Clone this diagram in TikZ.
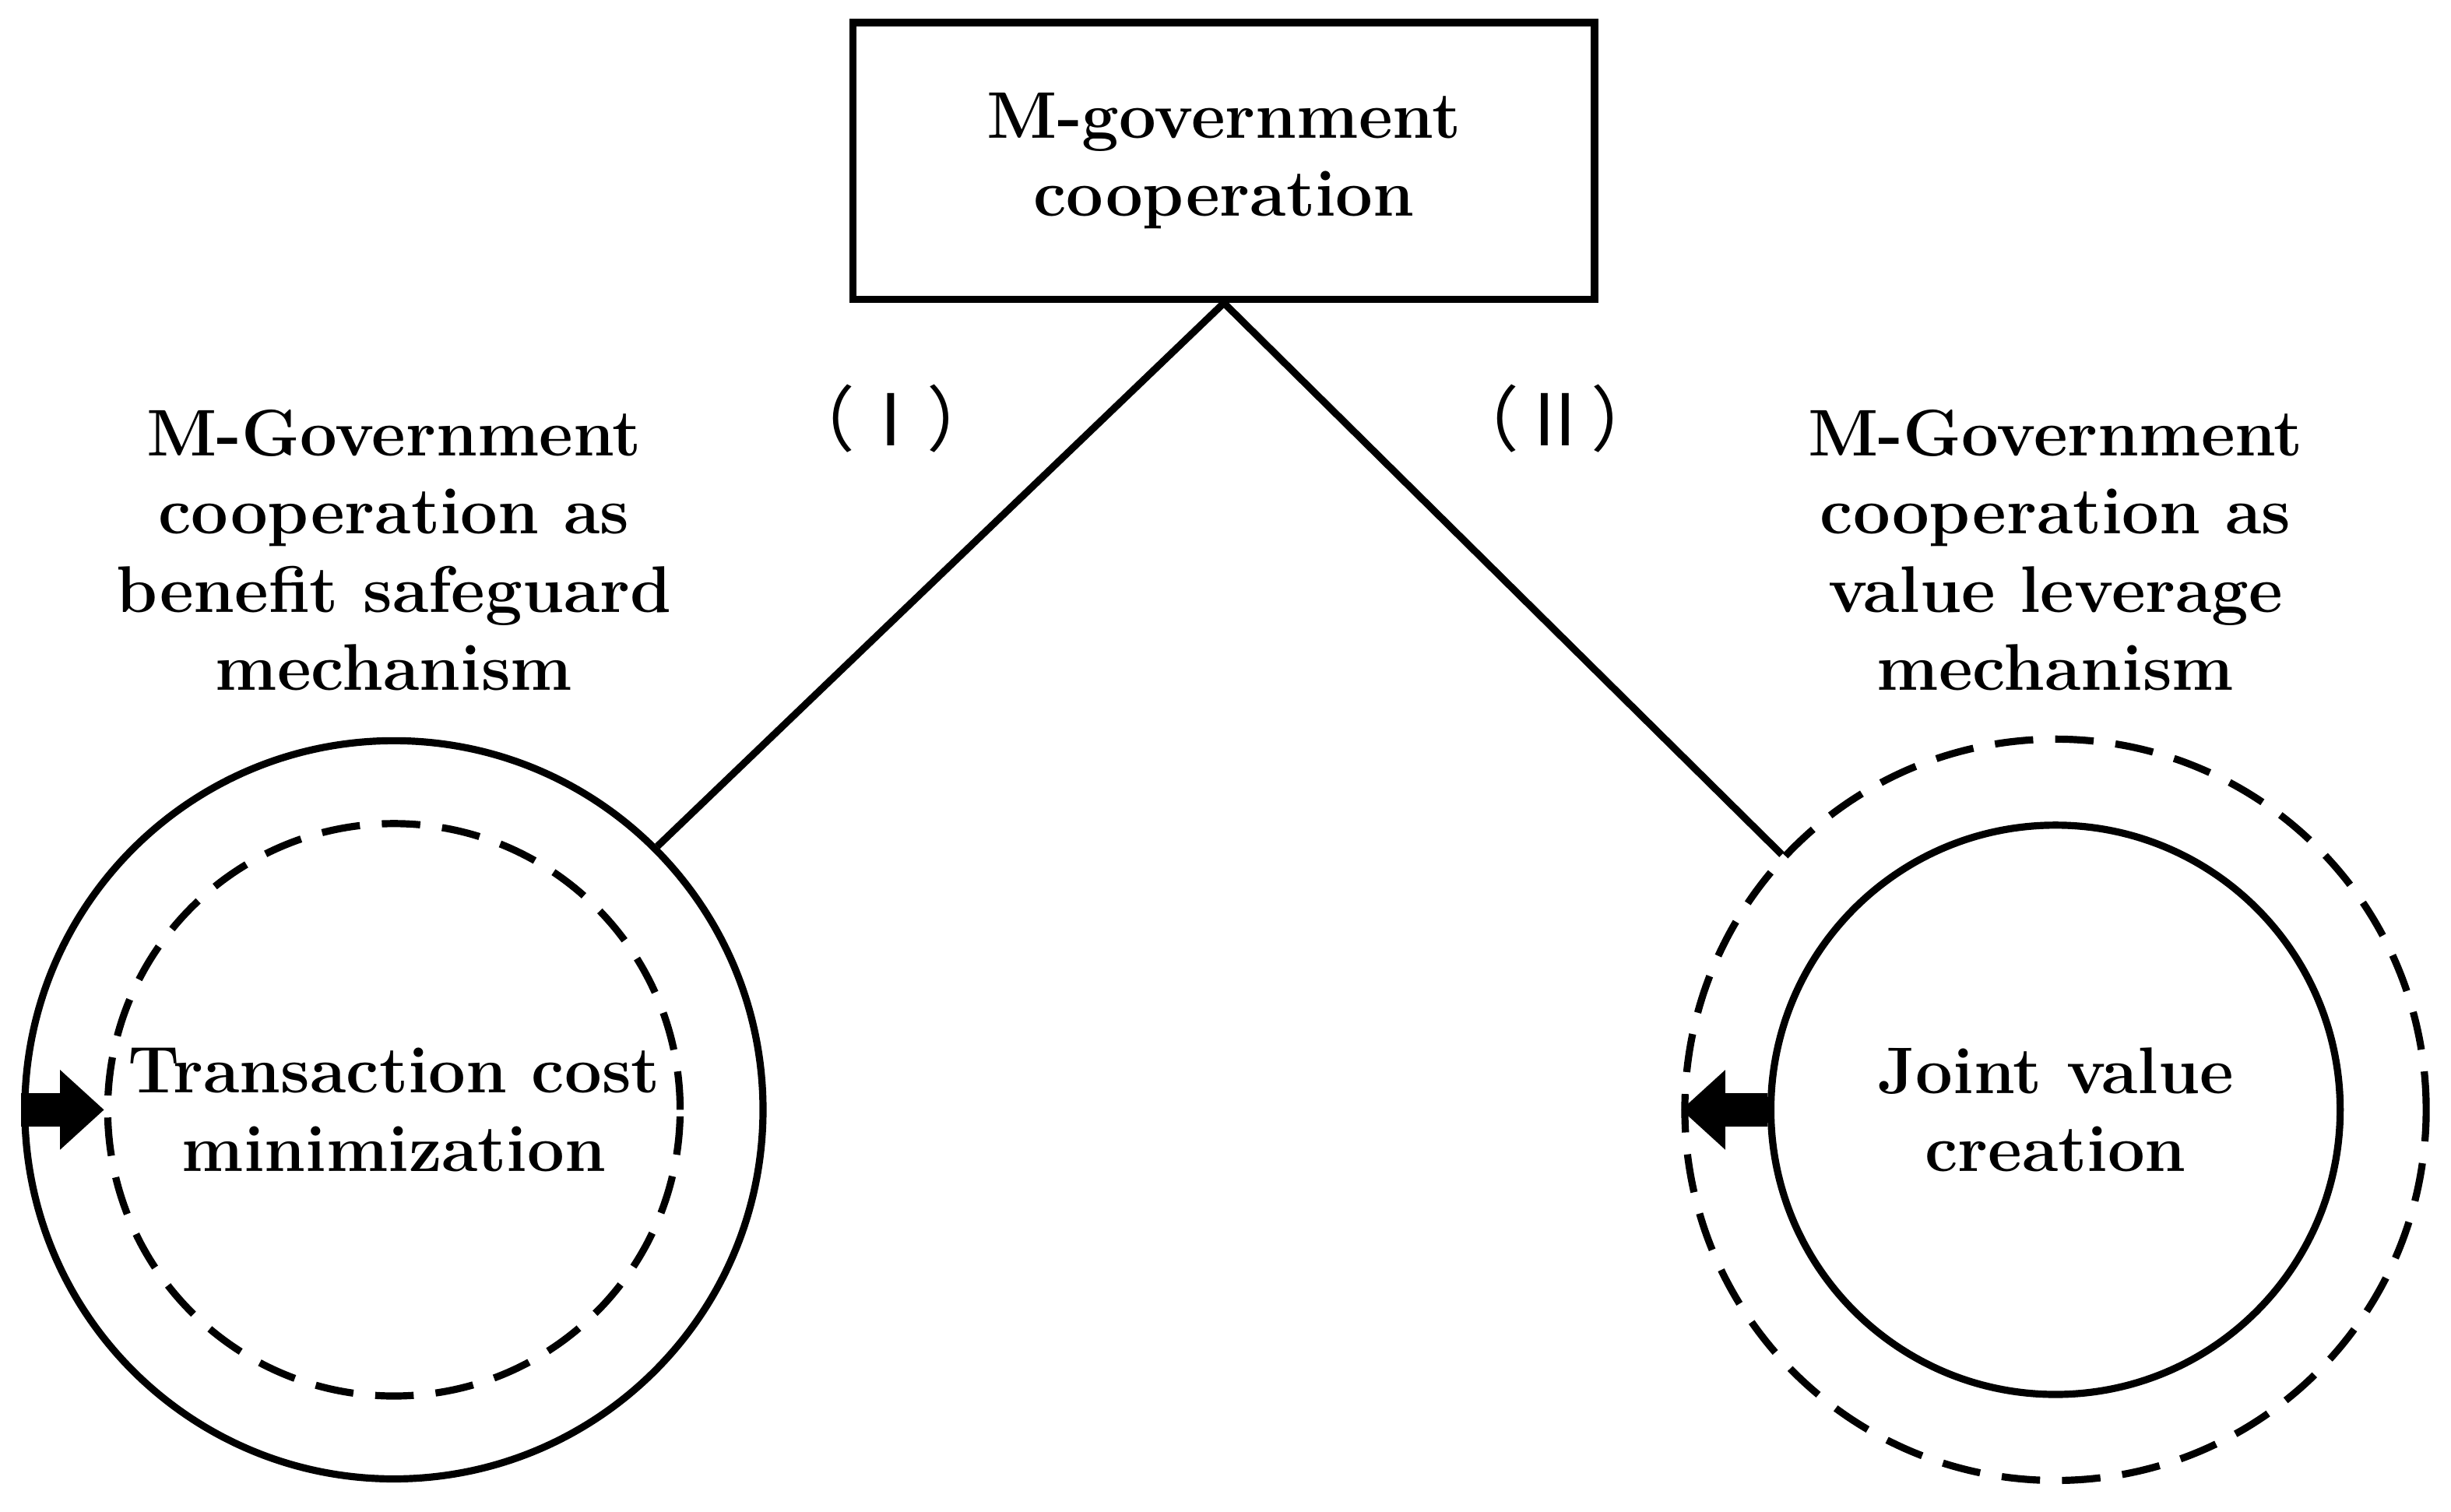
\documentclass[tikz,border=0pt]{standalone}
\usepackage{fontspec}
\newfontfamily\cjkf{Noto Sans CJK SC}
\usetikzlibrary{arrows.meta}
\begin{document}
\begin{tikzpicture}[x=0.01cm,y=-0.01cm,
  lw/.style={line width=1.3pt},
  dsh/.style={lw,dash pattern=on 7pt off 4pt},
  txt/.style={font=\fontsize{12}{14.2}\selectfont\bfseries,align=center},
  barrow/.style={line width=6pt,-{Triangle[length=8pt,width=14pt]}}]
\useasboundingbox (0,0) rectangle (1568,967);
\node[lw,draw,minimum width=4.74cm,minimum height=1.77cm,inner sep=0,txt] (box) at (783,103) {M-government\\cooperation};
\node[lw,draw,circle,minimum size=4.72cm] (L) at (252,710) {};
\node[dsh,draw,circle,minimum size=3.66cm] (Li) at (252,710) {};
\node[dsh,draw,circle,minimum size=4.74cm] (R) at (1315,710) {};
\node[lw,draw,circle,minimum size=3.64cm] (Ri) at (1315,710) {};
\draw[lw] (box.south) -- (L.45);
\draw[lw] (box.south) -- (R.137);
\node[txt] (Lt) at (252,710) {Transaction cost\\minimization};
\node[txt] (Rt) at (1315,710) {Joint value\\creation};
\node[txt] (La) at (252,352) {M-Government\\cooperation as\\benefit safeguard\\mechanism};
\node[txt] (Ra) at (1315,352) {M-Government\\cooperation as\\value leverage\\mechanism};
\node[font=\cjkf\fontsize{13}{14}\selectfont] (I) at (570,268) {（Ⅰ）};
\node[font=\cjkf\fontsize{13}{14}\selectfont] (II) at (995,268) {（Ⅱ）};
\draw[barrow] (L.180) -- (Li.180);
\draw[barrow] (Ri.180) -- (R.180);
\end{tikzpicture}
\end{document}
